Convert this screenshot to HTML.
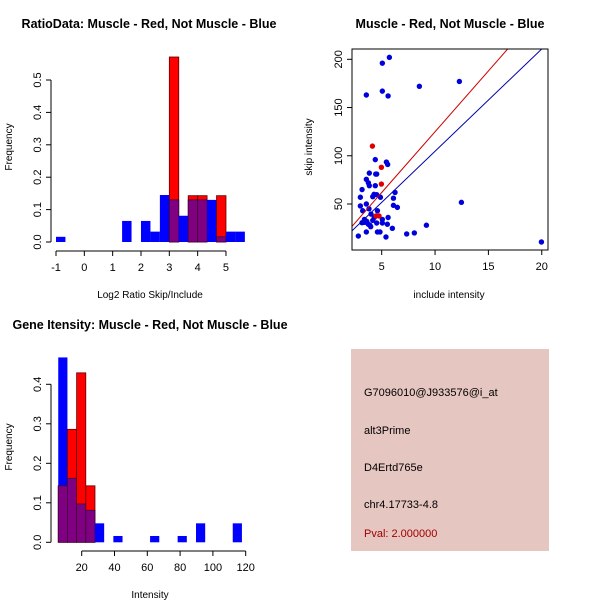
<!DOCTYPE html>
<html><head><meta charset="utf-8"><style>
body{margin:0;background:#fff}
svg{display:block;font-family:"Liberation Sans",sans-serif}
</style></head><body>
<svg id="c" width="600" height="600" xmlns="http://www.w3.org/2000/svg">
<rect width="600" height="600" fill="#fff"/>
<g font-weight="bold" font-size="12.5" text-anchor="middle">
<text x="149" y="28">RatioData: Muscle - Red, Not Muscle - Blue</text>
<text x="450" y="28">Muscle - Red, Not Muscle - Blue</text>
<text x="150" y="329">Gene Itensity: Muscle - Red, Not Muscle - Blue</text>
</g>
<g font-size="11">
<rect x="351" y="349" width="198" height="202" fill="#e6c6c0"/>
<text x="364" y="396">G7096010@J933576@i_at</text>
<text x="364" y="434">alt3Prime</text>
<text x="364" y="471">D4Ertd765e</text>
<text x="364" y="508">chr4.17733-4.8</text>
<text x="364" y="537" fill="#a00000">Pval: 2.000000</text>
</g>
</svg>
<script>
// ---- Ratio histogram data ----
const ratioEdgeStart = -1;
const ratioBinWidth = 1/3;
const ratioBlue = [0.016,0,0,0,0,0,0,0.065,0,0.065,0.032,0.145,0.13,0.081,0.13,0.13,0.13,0.016,0.032,0.032];
const ratioRed  = [0,0,0,0,0,0,0,0,0,0,0,0,0.571,0,0.143,0.143,0,0.143,0,0];
const ratioXTicks = [-1,0,1,2,3,4,5];
const ratioYTicks = [0,0.1,0.2,0.3,0.4,0.5];
// ---- Intensity histogram data ----
const intEdgeStart = 5.7;
const intBinWidth = 5.6;
const intBlue = [0.468,0.162,0.097,0.081,0.048,0,0.016,0,0,0,0.016,0,0,0.016,0,0.048,0,0,0,0.048];
const intRed  = [0.143,0.286,0.429,0.143];
const intXTicks = [20,40,60,80,100,120];
const intYTicks = [0,0.1,0.2,0.3,0.4];
// ---- Scatter data ----
const blueX = [5.72,5.06,3.56,5.06,5.6,8.53,12.28,4.4,5.44,5.56,3.84,4.44,4.53,3.56,3.75,3.84,4.4,3.16,6.25,4.28,4.53,4.16,3,4.88,6.1,3.56,3,6.1,6.47,3.81,3.22,4.6,12.47,4,5.6,3.38,5.06,3.6,4.16,3.16,4.53,5.06,5.53,3.75,3.97,9.19,6,3.56,4.6,4.84,7.34,8.06,2.81,5.4,19.97,3.4,3.9,4.3];
const blueY = [202,196,163,167,162,172,177,96,93.5,91,82,81,81,75.6,72,69,69,65,62,60,59.7,57.6,57,57,56,50,48,48.6,46.5,45,43,43,51.7,39.6,36,34,34,32,33,30.6,30.3,30.3,29,29,26.5,28,24.8,21,21,21,19,20,16.8,15.8,10.6,31,28,36];
const redX = [4.13,4.97,4.97,4.47,4.75];
const redY = [110,88,70.7,37.6,37.6];
const lineRed = [-1.1,12.6];   // intercept, slope
const lineBlue = [-1.3,10.6];
const sXTicks = [5,10,15,20];
const sYTicks = [50,100,150,200];

const svg = document.getElementById('c');
const NS = 'http://www.w3.org/2000/svg';
function mk(tag, attrs, parent){const e=document.createElementNS(NS,tag);for(const k in attrs)e.setAttribute(k,attrs[k]);(parent||svg).appendChild(e);return e;}
function txt(s,x,y,rot,anchor,size){const t=mk('text',{x:x,y:y,'font-size':size||11,'text-anchor':anchor||'middle'});if(rot)t.setAttribute('transform','rotate(-90 '+x+' '+y+')');t.textContent=s;return t;}

function hist(opt){
  const g=mk('g',{});
  
  
  const X=v=>opt.x0+(v-opt.xd0)*opt.xs, Y=v=>opt.y0-v*opt.ys;
  const n=Math.max(opt.blue.length,opt.red.length);
  for(let i=0;i<n;i++){
    const a=opt.start+i*opt.w,b=a+opt.w;
    const bv=opt.blue[i]||0, rv=opt.red[i]||0;
    if(bv>0){const r=mk('rect',{x:X(a),y:Y(bv),width:X(b)-X(a),height:Y(0)-Y(bv),fill:'#0000ff'},g);
      }
    if(rv>0){const r=mk('rect',{x:X(a),y:Y(rv),width:X(b)-X(a),height:Y(0)-Y(rv),fill:'#ff0000',stroke:'#600000','stroke-width':0.8},g);
      }
    const m=Math.min(bv,rv);
    if(m>0){const r=mk('rect',{x:X(a),y:Y(m),width:X(b)-X(a),height:Y(0)-Y(m),fill:'#7f0080',stroke:'#400040','stroke-width':0.8},g);
      }
  }
  const yt=opt.yticks;
  mk('line',{x1:opt.yax,x2:opt.yax,y1:Y(yt[0]),y2:Y(yt[yt.length-1]),stroke:'#000'},g);
  yt.forEach(v=>{mk('line',{x1:opt.yax-5,x2:opt.yax,y1:Y(v),y2:Y(v),stroke:'#000'},g);txt(v.toFixed(1),opt.yax-10,Y(v),true,'middle',11);});
  const xt=opt.xticks;
  mk('line',{x1:X(xt[0]),x2:X(xt[xt.length-1]),y1:opt.xax,y2:opt.xax,stroke:'#000'},g);
  xt.forEach(v=>{mk('line',{x1:X(v),x2:X(v),y1:opt.xax,y2:opt.xax+5,stroke:'#000'},g);txt(String(v),X(v),opt.xax+20,false,'middle',11);});
  txt(opt.xlabel,opt.xlx,opt.xly,false,'middle',10);
  txt('Frequency',12,opt.yly,true,'middle',10);
}
hist({name:'ratio-histogram',blue:ratioBlue,red:ratioRed,start:ratioEdgeStart,w:ratioBinWidth,
  x0:56,xd0:-1,xs:28.33,y0:242,ys:324,yax:51,xax:251,xticks:ratioXTicks,yticks:ratioYTicks,
  xlabel:'Log2 Ratio Skip/Include',xlx:150,xly:298,yly:147});
hist({name:'intensity-histogram',blue:intBlue,red:intRed,start:intEdgeStart,w:intBinWidth,
  x0:81.7,xd0:20,xs:1.64,y0:542.3,ys:395,yax:51,xax:551,xticks:intXTicks,yticks:intYTicks,
  xlabel:'Intensity',xlx:150,xly:598,yly:447});

(function(){
  const g=mk('g',{});
  
  
  const L=352,R=548,T=49,B=250;
  const X=v=>381.7+(v-5)*10.67, Y=v=>204-(v-50)*0.9647;
  const cp=mk('clipPath',{id:'sc'},g);
  mk('rect',{x:L,y:T,width:R-L,height:B-T},cp);
  const pg=mk('g',{'clip-path':'url(#sc)'},g);
  for(let i=0;i<blueX.length;i++){const c=mk('circle',{cx:X(blueX[i]),cy:Y(blueY[i]),r:2.7,fill:'#0000dd'},pg);
    }
  for(let i=0;i<redX.length;i++){const c=mk('circle',{cx:X(redX[i]),cy:Y(redY[i]),r:2.7,fill:'#dd0000'},pg);
    }
  const x1=0,x2=25;
  const lr=mk('line',{x1:X(x1),y1:Y(lineRed[0]+lineRed[1]*x1),x2:X(x2),y2:Y(lineRed[0]+lineRed[1]*x2),stroke:'#cc0000','stroke-width':1},pg);
  
  const lb=mk('line',{x1:X(x1),y1:Y(lineBlue[0]+lineBlue[1]*x1),x2:X(x2),y2:Y(lineBlue[0]+lineBlue[1]*x2),stroke:'#0000aa','stroke-width':1},pg);
  
  mk('rect',{x:L,y:T,width:R-L,height:B-T,fill:'none',stroke:'#000'},g);
  sXTicks.forEach(v=>{mk('line',{x1:X(v),x2:X(v),y1:B,y2:B+5,stroke:'#000'},g);txt(String(v),X(v),B+20,false,'middle',11);});
  sYTicks.forEach(v=>{mk('line',{x1:L-5,x2:L,y1:Y(v),y2:Y(v),stroke:'#000'},g);txt(String(v),L-10,Y(v),true,'middle',11);});
  txt('include intensity',449,298,false,'middle',10);
  txt('skip intensity',312,147,true,'middle',10);
})();
</script>
</body></html>
